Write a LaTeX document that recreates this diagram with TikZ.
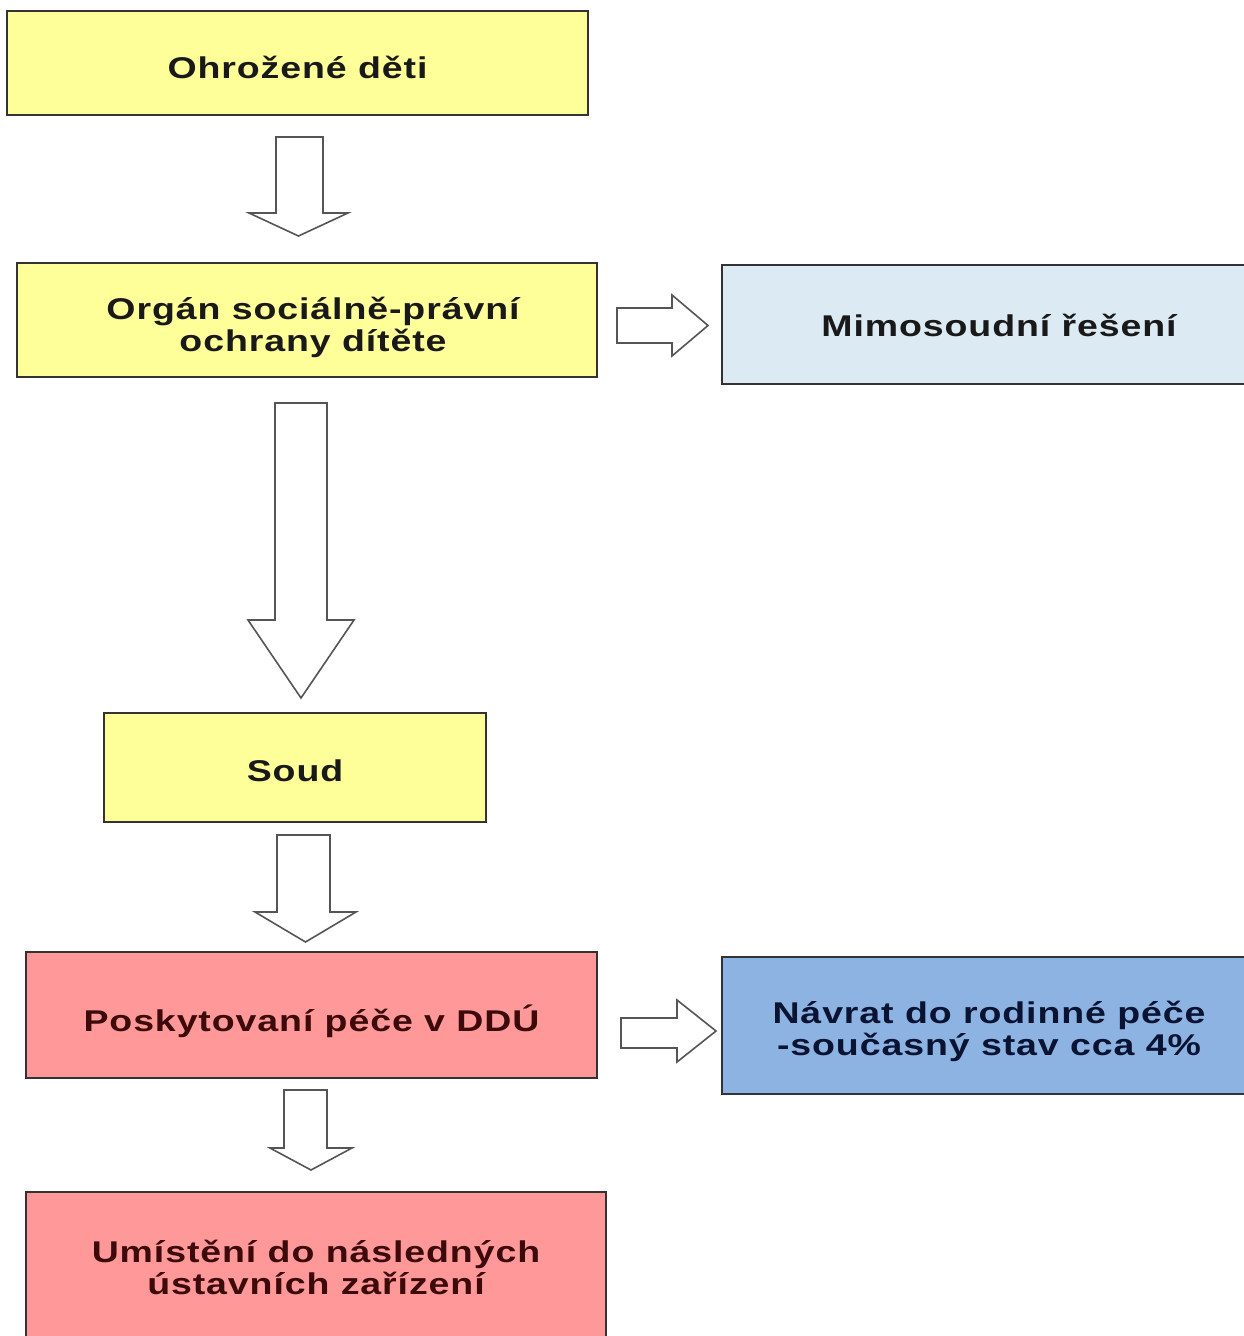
\documentclass[tikz,border=0pt]{standalone}
\usepackage{fontspec}
\setmainfont{Liberation Sans}[FakeStretch=1.25,LetterSpace=3]
\definecolor{ylw}{HTML}{FFFF99}
\definecolor{lblue}{HTML}{DCEAF3}
\definecolor{mblue}{HTML}{8DB3E2}
\definecolor{salmon}{HTML}{FF9999}
\definecolor{edge}{HTML}{333333}
\definecolor{arr}{HTML}{555555}
\definecolor{redtxt}{RGB}{60,10,10}
\definecolor{bluetxt}{RGB}{10,20,50}
\newcommand{\blkdown}[7]{%
  \draw[blockarrow] (#1,#3) -- (#2,#3) -- (#2,#4) -- (#6,#4) -- ({(#5+#6)/2},#7) -- (#5,#4) -- (#1,#4) -- cycle;}
\newcommand{\blkright}[7]{%
  \draw[blockarrow] (#3,#1) -- (#3,#2) -- (#4,#2) -- (#4,#6) -- (#7,{(#5+#6)/2}) -- (#4,#5) -- (#4,#1) -- cycle;}
\begin{document}
\begin{tikzpicture}[x=1pt,y=-1pt,
  box/.style={draw=edge,line width=1.6pt,inner sep=0pt},
  lbl/.style={align=center,inner sep=0pt,font=\fontsize{30}{32}\selectfont\bfseries},
  blockarrow/.style={draw=arr,fill=white,line width=1.6pt,line join=miter}]
\useasboundingbox[fill=white] (0,0) rectangle (1243,1336);
\node[box,fill=ylw,minimum width=581pt,minimum height=104pt] (ohr) at (297.5,63) {};
\node[lbl,text=black!90] (ohr-t) at ([yshift=-4pt]ohr.center) {Ohrožené děti};
\node[box,fill=ylw,minimum width=580pt,minimum height=114pt] (org) at (307,320) {};
\node[lbl,text=black!90] (org-t) at ([xshift=6pt,yshift=-7pt]org.center) {Orgán sociálně-právní\\ochrany dítěte};
\node[box,fill=lblue,minimum width=554pt,minimum height=119pt] (mim) at (999,324.5) {};
\node[lbl,text=black!90] (mim-t) at ([yshift=-1pt]mim.center) {Mimosoudní řešení};
\node[box,fill=ylw,minimum width=382pt,minimum height=109pt] (soud) at (295,767.5) {};
\node[lbl,text=black!90] (soud-t) at ([yshift=-3pt]soud.center) {Soud};
\node[box,fill=salmon,minimum width=571pt,minimum height=126pt] (pos) at (311.5,1015) {};
\node[lbl,text=redtxt] (pos-t) at ([yshift=-6pt]pos.center) {Poskytovaní péče v DDÚ};
\node[box,fill=mblue,minimum width=534pt,minimum height=137pt] (nav) at (989,1025.5) {};
\node[lbl,text=bluetxt] (nav-t) at ([yshift=-6pt]nav.center) {Návrat do rodinné péče\\-současný stav cca 4\%};
\node[box,fill=salmon,minimum width=580pt,minimum height=150pt] (umi) at (316,1267) {};
\node[lbl,text=redtxt] (umi-t) at (umi.center) {Umístění do následných\\ústavních zařízení};
% block arrows
\blkdown{276}{323}{137}{213}{249}{348}{236}
\blkdown{275}{327}{403}{620}{248}{354}{698}
\blkdown{277}{330}{835}{912}{255}{356}{942}
\blkdown{284}{327}{1090}{1148}{270}{352}{1170}
\blkright{308}{343}{617}{672}{295}{356}{708}
\blkright{1018}{1048}{621}{677}{1000}{1062}{716}
\end{tikzpicture}
\end{document}
